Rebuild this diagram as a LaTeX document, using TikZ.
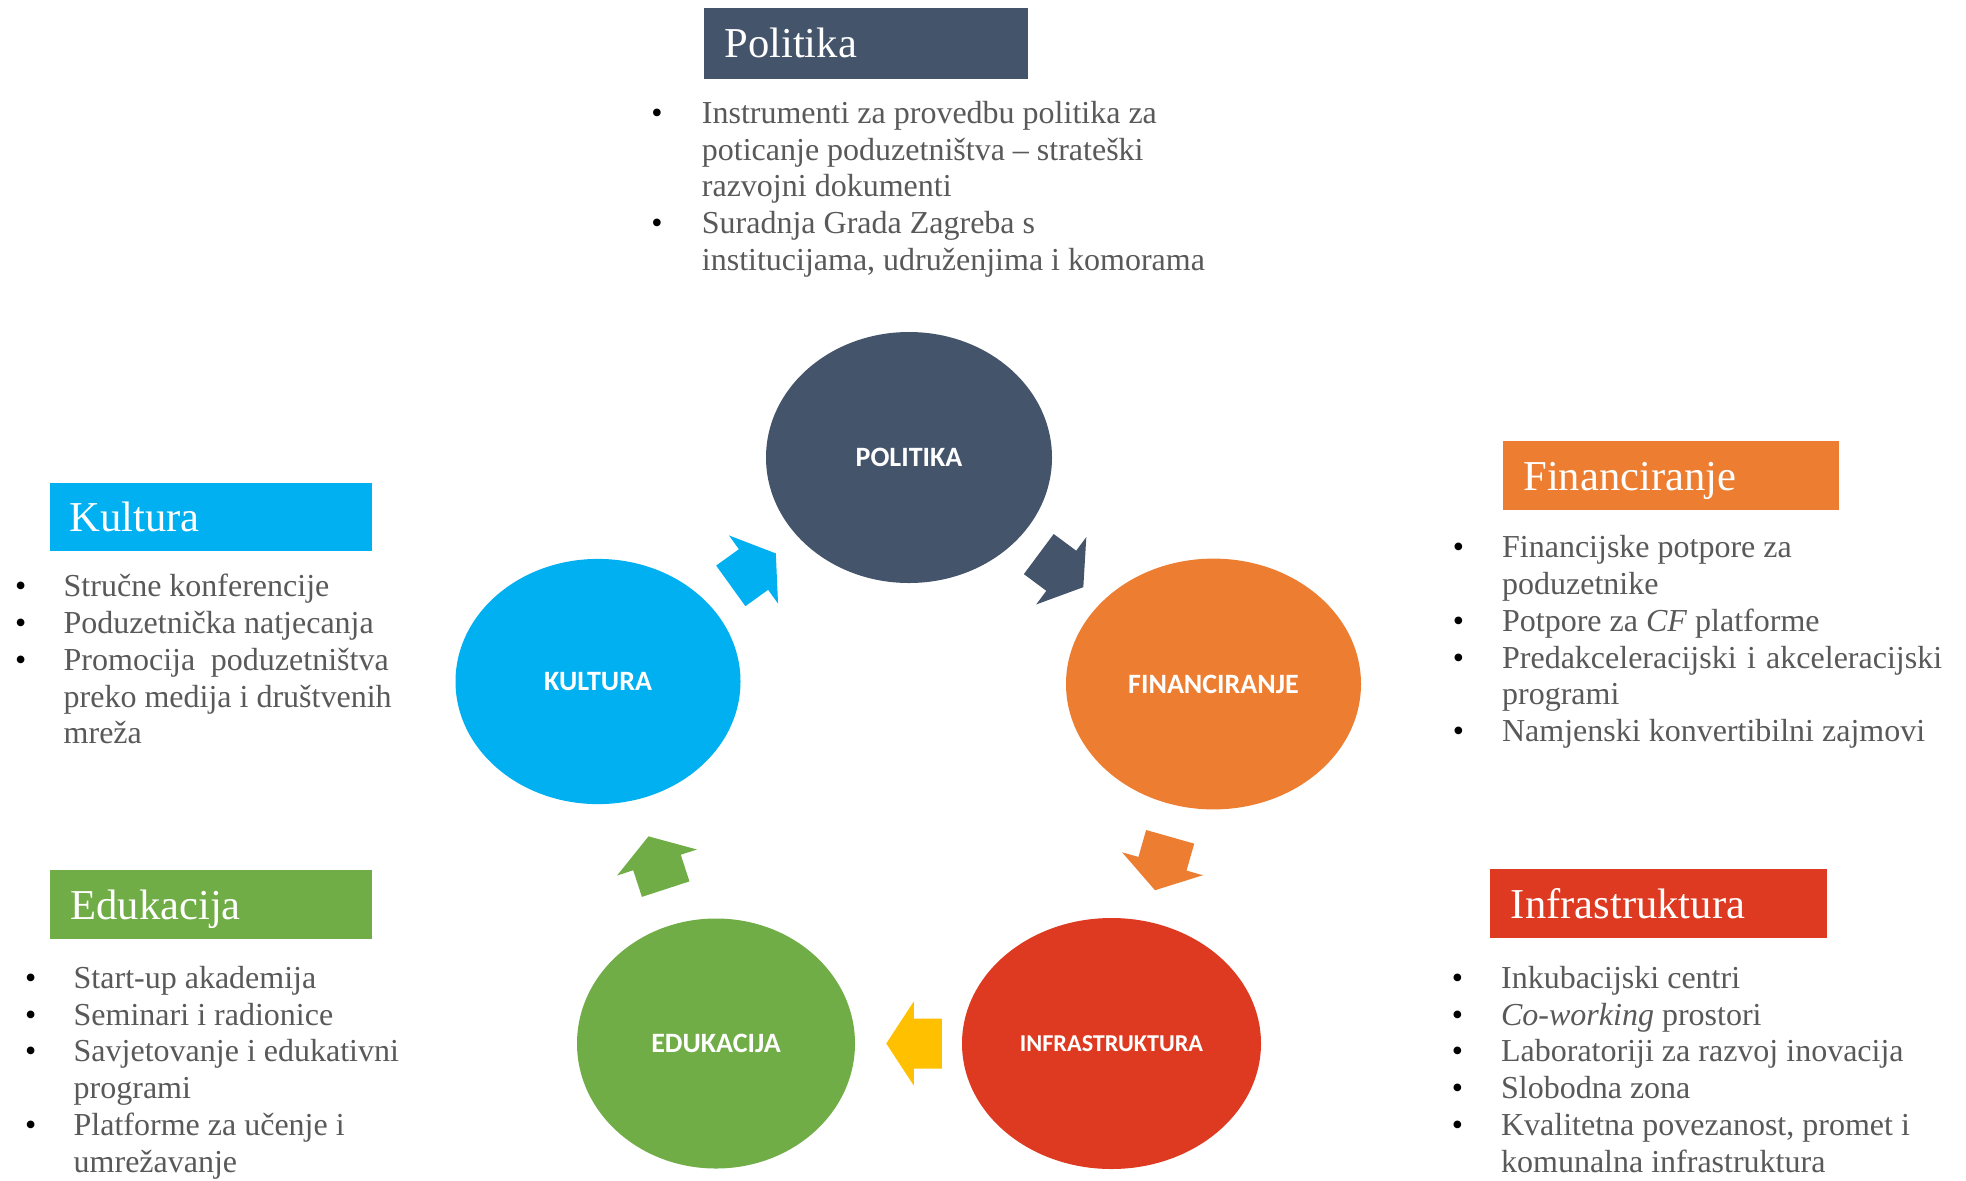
\documentclass[tikz,border=0pt]{standalone}
\usepackage{fontspec}
\setmainfont{Liberation Serif}
\newfontfamily\lblfont{Carlito}
\usetikzlibrary{shapes.geometric,calc}
\definecolor{cPol}{HTML}{44546A}
\definecolor{cFin}{HTML}{ED7D31}
\definecolor{cInf}{HTML}{DE3A21}
\definecolor{cEdu}{HTML}{70AD47}
\definecolor{cKul}{HTML}{00B0F0}
\definecolor{cYel}{HTML}{FFC000}
\definecolor{cTxt}{HTML}{595959}
\begin{document}
\begin{tikzpicture}[x=0.5pt,y=-0.5pt,
  circ/.style={ellipse, inner sep=0, text=white, font=\lblfont\bfseries\fontsize{14}{16}\selectfont},
  hdrbox/.style={anchor=north west, inner sep=0, text=white, align=left,
     text height=24.5pt, font=\fontsize{21.3}{24}\selectfont},
  bul/.style={anchor=base, inner sep=0, font=\fontsize{16}{18.4}\selectfont, text=black},
  txt/.style={anchor=base west, inner sep=0, font=\fontsize{16}{18.4}\selectfont, text=cTxt},
  blockarrow/.pic={\fill (-28,-25) -- (0,-25) -- (0,-42) -- (27.5,0) -- (0,42) -- (0,25) -- (-28,25) -- cycle;}
]
\fill[white] (0,0) rectangle (1966,1180);
\useasboundingbox (0,0) rectangle (1966,1180);

% cycle
\node[circ, fill=cPol, minimum width=143pt, minimum height=125.5pt] (pol) at (909,457.5) {POLITIKA};
\node[circ, fill=cFin, minimum width=147.5pt, minimum height=125.4pt] (fin) at (1213.5,684) {FINANCIRANJE};
\node[circ, fill=cInf, minimum width=149.5pt, minimum height=125.5pt, font=\lblfont\bfseries\fontsize{12.1}{14}\selectfont] (inf) at (1111.5,1043.5) {INFRASTRUKTURA};
\node[circ, fill=cEdu, minimum width=139pt, minimum height=125pt] (edu) at (716,1043.5) {EDUKACIJA};
\node[circ, fill=cKul, minimum width=142.5pt, minimum height=122.6pt] (kul) at (598,681.5) {KULTURA};

\foreach \a/\b/\c in {pol/fin/cPol, fin/inf/cFin, inf/edu/cYel, edu/kul/cEdu, kul/pol/cKul}{
  \path let \p1=($(\b)-(\a)$), \n1={atan2(\y1,\x1)} in
    pic[fill=\c, rotate=\n1] at ($(\a)!0.5!(\b)$) {blockarrow};
}

% headers
\node[hdrbox, fill=cPol, text width=162pt, text depth=11pt] (hpol) at (704,8) {\hspace*{10pt}Politika};
\node[hdrbox, fill=cKul, text width=160.8pt, text depth=9.7pt] (hkul) at (50,482.3) {\hspace*{9.5pt}Kultura};
\node[hdrbox, fill=cFin, text width=168pt, text depth=9.7pt] (hfin) at (1503,441) {\hspace*{10pt}Financiranje};
\node[hdrbox, fill=cEdu, text width=160.8pt, text depth=9.7pt] (hedu) at (50,870) {\hspace*{10pt}Edukacija};
\node[hdrbox, fill=cInf, text width=168.5pt, text depth=9.7pt] (hinf) at (1489.5,869) {\hspace*{10.5pt}Infrastruktura};

% Politika list
\node[bul] (bpol) at (657,123.3) {\begin{tabular}[t]{@{}c@{}}•\\ \\ \\ •\\ \\\end{tabular}};
\node[txt] (tpol) at (701.5,123.3) {\begin{tabular}[t]{@{}l@{}}
Instrumenti za provedbu politika za\\
poticanje poduzetništva – strateški\\
razvojni dokumenti\\
Suradnja Grada Zagreba s\\
institucijama, udruženjima i komorama\end{tabular}};

% Kultura list
\node[bul] (bkul) at (20.7,596.7) {\begin{tabular}[t]{@{}c@{}}•\\ •\\ •\\ \\ \\\end{tabular}};
\node[txt] (tkul) at (63.3,596.7) {\begin{tabular}[t]{@{}l@{}}
Stručne konferencije\\
Poduzetnička natjecanja\\
\makebox[162.5pt][s]{Promocija poduzetništva}\\
preko medija i društvenih\\
mreža\end{tabular}};

% Financiranje list
\node[bul] (bfin) at (1458.5,557.7) {\begin{tabular}[t]{@{}c@{}}•\\ \\ •\\ •\\ \\ •\end{tabular}};
\node[txt] (tfin) at (1501.7,557.7) {\begin{tabular}[t]{@{}l@{}}
Financijske potpore za\\
poduzetnike\\
Potpore za \textit{CF} platforme\\
\makebox[220pt][s]{Predakceleracijski i akceleracijski}\\
programi\\
Namjenski konvertibilni zajmovi\end{tabular}};

% Edukacija list
\node[bul] (bedu) at (30.7,988.3) {\begin{tabular}[t]{@{}c@{}}•\\ •\\ •\\ \\ •\\ \\\end{tabular}};
\node[txt] (tedu) at (73.3,988.3) {\begin{tabular}[t]{@{}l@{}}
Start-up akademija\\
Seminari i radionice\\
Savjetovanje i edukativni\\
programi\\
Platforme za učenje i\\
umrežavanje\end{tabular}};

% Infrastruktura list
\node[bul] (binf) at (1457.5,988.3) {\begin{tabular}[t]{@{}c@{}}•\\ •\\ •\\ •\\ •\\ \\\end{tabular}};
\node[txt] (tinf) at (1500.7,988.3) {\begin{tabular}[t]{@{}l@{}}
Inkubacijski centri\\
\textit{Co-working} prostori\\
Laboratoriji za razvoj inovacija\\
Slobodna zona\\
Kvalitetna povezanost, promet i\\
komunalna infrastruktura\end{tabular}};
\end{tikzpicture}
\end{document}
